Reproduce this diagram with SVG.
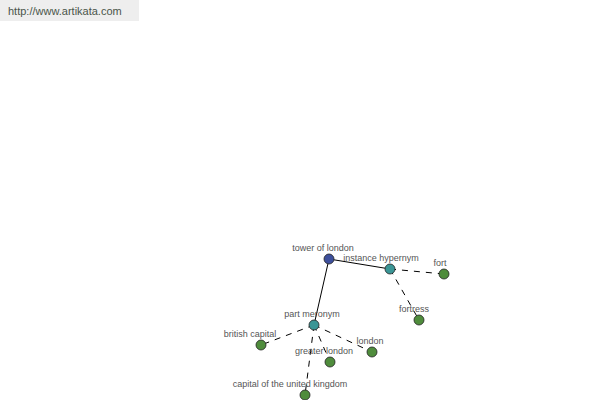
<svg xmlns="http://www.w3.org/2000/svg" width="600" height="400" viewBox="0 0 600 400">
<style>
text{font-family:"Liberation Sans",Arial,sans-serif;font-size:9px;fill:#555;text-anchor:middle}
.url{font-size:11px;fill:#4a554a;text-anchor:start}
.solid{stroke:#000;stroke-width:1;fill:none}
.dash{stroke:#000;stroke-width:1;fill:none;stroke-dasharray:6,6}
circle{stroke:#222;stroke-width:0.8}
.root{fill:#3d4f9c}
.rel{fill:#3a9696}
.leaf{fill:#4f8c3c}
</style>
<rect x="0" y="0" width="139" height="21" fill="#eeeeee"/>
<text class="url" x="8" y="15">http://www.artikata.com</text>
<g id="connectors">
<line class="solid" x1="329" y1="259" x2="390" y2="269"/>
<line class="solid" x1="329" y1="259" x2="314" y2="325"/>
<line class="dash" x1="390" y1="269" x2="444" y2="274"/>
<line class="dash" x1="390" y1="269" x2="419" y2="320"/>
<line class="dash" x1="314" y1="325" x2="261" y2="345"/>
<line class="dash" x1="314" y1="325" x2="330" y2="362"/>
<line class="dash" x1="314" y1="325" x2="372" y2="352"/>
<line class="dash" x1="314" y1="325" x2="305" y2="395"/>
</g>
<g id="n-tower"><circle class="root" cx="329" cy="259" r="5"/><text x="323" y="251">tower of london</text></g>
<g id="n-instance"><circle class="rel" cx="390" cy="269" r="5"/><text x="381" y="261">instance hypernym</text></g>
<g id="n-fort"><circle class="leaf" cx="444" cy="274" r="5"/><text x="440" y="266">fort</text></g>
<g id="n-fortress"><circle class="leaf" cx="419" cy="320" r="5"/><text x="414" y="312">fortress</text></g>
<g id="n-part"><circle class="rel" cx="314" cy="325" r="5"/><text x="312" y="317">part meronym</text></g>
<g id="n-british"><circle class="leaf" cx="261" cy="345" r="5"/><text x="250" y="337">british capital</text></g>
<g id="n-greater"><circle class="leaf" cx="330" cy="362" r="5"/><text x="324" y="354">greater london</text></g>
<g id="n-london"><circle class="leaf" cx="372" cy="352" r="5"/><text x="370" y="344">london</text></g>
<g id="n-capital"><circle class="leaf" cx="305" cy="395" r="5"/><text x="290" y="387">capital of the united kingdom</text></g>
</svg>
